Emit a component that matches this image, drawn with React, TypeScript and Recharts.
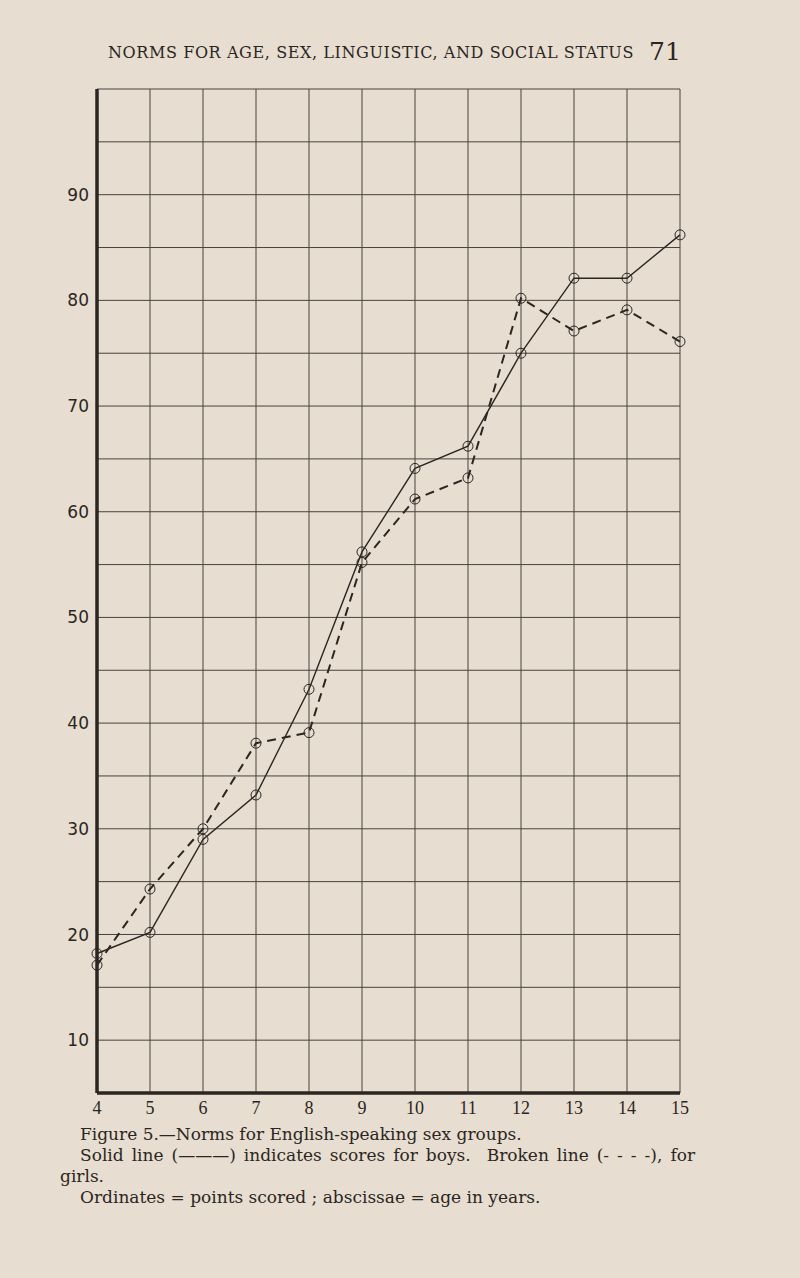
import { LineChart, Line, XAxis, YAxis, CartesianGrid } from "recharts";

// age in years (abscissae)
const ages = [4, 5, 6, 7, 8, 9, 10, 11, 12, 13, 14, 15];
// points scored, solid line
const boys = [18.2, 20.2, 29.0, 33.2, 43.2, 56.2, 64.1, 66.2, 75.0, 82.1, 82.1, 86.2];
// points scored, broken line
const girls = [17.1, 24.3, 30.0, 38.1, 39.1, 55.2, 61.2, 63.2, 80.2, 77.1, 79.1, 76.1];

const yTicks = [5, 10, 15, 20, 25, 30, 35, 40, 45, 50, 55, 60, 65, 70, 75, 80, 85, 90, 95, 100];
const yLabels = [10, 20, 30, 40, 50, 60, 70, 80, 90];

const rows = ages.map((age, i) => ({ age, boys: boys[i], girls: girls[i] }));

const paper = "#e7ded1";
const ink = "#2b2621";
const grid = "#48423c";

const serif = "'DejaVu Serif', serif";

export default function App() {
  return (
    <div
      style={{
        position: "absolute",
        left: 0,
        top: 0,
        width: 800,
        height: 1278,
        background: paper,
        color: ink,
        overflow: "hidden",
      }}
    >
      <div
        style={{
          position: "absolute",
          left: 108,
          top: 43,
          fontFamily: serif,
          fontSize: 16,
          letterSpacing: 0.6,
          whiteSpace: "nowrap",
        }}
      >
        NORMS FOR AGE, SEX, LINGUISTIC, AND SOCIAL STATUS
      </div>
      <div
        style={{
          position: "absolute",
          left: 649,
          top: 37,
          fontFamily: serif,
          fontSize: 25,
        }}
      >
        71
      </div>

      <div style={{ position: "absolute", left: 0, top: 0 }}>
        <LineChart
          width={800}
          height={1278}
          data={rows}
          margin={{ top: 89, right: 120, bottom: 155, left: 57 }}
        >
          <CartesianGrid stroke={grid} strokeWidth={1} />
          <XAxis
            dataKey="age"
            type="number"
            domain={[4, 15]}
            ticks={ages}
            height={30}
            tickLine={false}
            axisLine={{ stroke: ink, strokeWidth: 3.5 }}
            tick={{ fill: ink, fontSize: 18, fontFamily: "'Liberation Serif', serif" }}
            interval={0}
          />
          <YAxis
            type="number"
            domain={[5, 100]}
            ticks={yTicks}
            width={40}
            tickLine={false}
            axisLine={{ stroke: ink, strokeWidth: 3.5 }}
            tick={{ fill: ink, fontSize: 17, fontFamily: "'DejaVu Sans', sans-serif" }}
            tickFormatter={(v: number) => (yLabels.includes(v) ? String(v) : "")}
            interval={0}
          />
          <Line
            dataKey="boys"
            stroke={ink}
            strokeWidth={1.4}
            dot={{ r: 5, fill: "none", stroke: ink, strokeWidth: 1 }}
            isAnimationActive={false}
          />
          <Line
            dataKey="girls"
            stroke={ink}
            strokeWidth={2}
            strokeDasharray="9 6"
            dot={{ r: 5, fill: "none", stroke: ink, strokeWidth: 1, strokeDasharray: "none" }}
            isAnimationActive={false}
          />
        </LineChart>
      </div>

      <div
        style={{
          position: "absolute",
          left: 0,
          top: 1124,
          width: 800,
          fontFamily: serif,
          fontSize: 17,
          lineHeight: "21px",
          whiteSpace: "nowrap",
        }}
      >
        <div style={{ paddingLeft: 80 }}>Figure 5.—Norms for English-speaking sex groups.</div>
        <div style={{ paddingLeft: 80, wordSpacing: 2.6 }}>
          Solid line (———) indicates scores for boys.&nbsp; Broken line (- - - -), for
        </div>
        <div style={{ paddingLeft: 60 }}>girls.</div>
        <div style={{ paddingLeft: 80 }}>Ordinates = points scored ; abscissae = age in years.</div>
      </div>
    </div>
  );
}
